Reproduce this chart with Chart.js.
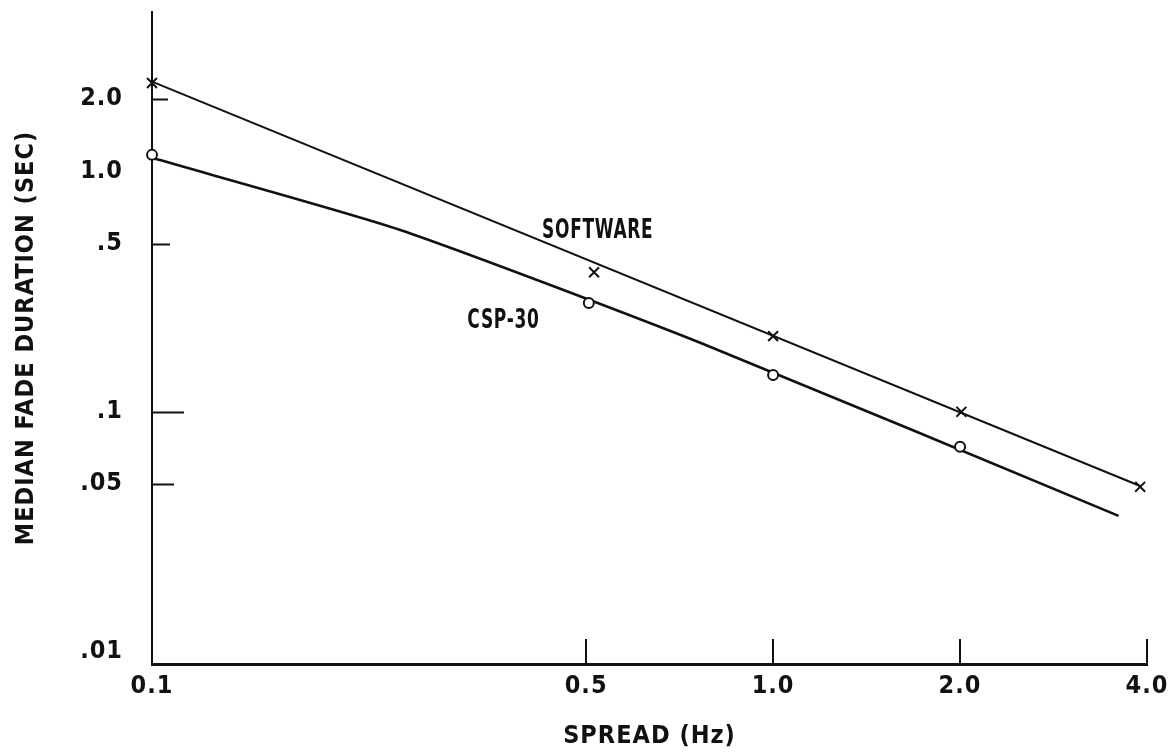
<!DOCTYPE html>
<html>
<head>
<meta charset="utf-8">
<title>Median fade duration vs spread</title>
<script src="https://cdn.jsdelivr.net/npm/chart.js@4.4.1/dist/chart.umd.min.js"></script>
<style>
  html, body { margin: 0; padding: 0; background: #fff; }
  #wrap { width: 1176px; height: 755px; }
</style>
</head>
<body>
<div id="wrap"><canvas id="fadeChart"></canvas></div>
<script>
// measured points, spread (Hz) / median fade duration (sec)
const softwareX = [0.1, 0.515, 1.0, 2.01, 3.9];
const softwareY = [2.33, 0.38, 0.206, 0.0997, 0.0486];
const cspX = [0.1, 0.505, 1.0, 2.0];
const cspY = [1.17, 0.283, 0.142, 0.0713];

// the hand drawn fit lines
const softwareFitX = [0.1, 3.9];
const softwareFitY = [2.36, 0.049];
const cspFitX = [0.1, 0.251, 0.765, 3.6];
const cspFitY = [1.137, 0.57, 0.193, 0.0368];

// axis ticks
const xTicks = [0.1, 0.5, 1.0, 2.0, 4.0];
const xTickText = ['0.1', '0.5', '1.0', '2.0', '4.0'];
const yTicks = [0.01, 0.05, 0.1, 0.5, 1.0, 2.0];
const yTickText = ['.01', '.05', '.1', '.5', '1.0', '2.0'];

// curve names, placed in data units
const curveNames = ['SOFTWARE', 'CSP-30'];
const curveNameX = [0.522, 0.368];
const curveNameY = [0.565, 0.238];

const INK = '#111';
const FONT = '"DejaVu Sans Condensed", "Liberation Sans Narrow", sans-serif';

function pts(xs, ys) {
    return xs.map((x, i) => ({ x: x, y: ys[i] }));
}

// short tick marks drawn inside the plot, like the original
const innerTicks = {
    id: 'innerTicks',
    afterDatasetsDraw(chart) {
        const { ctx, scales: { x, y } } = chart;
        const yLen = { 2.0: 16, 0.5: 18, 0.1: 32, 0.05: 22 };
        ctx.save();
        ctx.strokeStyle = INK;
        ctx.lineWidth = 2;
        ctx.beginPath();
        Object.keys(yLen).forEach(k => {
            const py = Math.round(y.getPixelForValue(Number(k))) + 0.5;
            ctx.moveTo(x.left, py);
            ctx.lineTo(x.left + yLen[k], py);
        });
        xTicks.slice(1).forEach(v => {
            const px = Math.round(x.getPixelForValue(v));
            ctx.moveTo(px, y.bottom);
            ctx.lineTo(px, y.bottom - 25);
        });
        ctx.stroke();
        ctx.restore();
    }
};

// curve names, squeezed sideways like the narrow lettering of the original
const curveLabels = {
    id: 'curveLabels',
    afterDatasetsDraw(chart) {
        const { ctx, scales: { x, y } } = chart;
        ctx.save();
        ctx.fillStyle = INK;
        ctx.font = 'bold 27px ' + FONT;
        ctx.textAlign = 'center';
        ctx.textBaseline = 'middle';
        curveNames.forEach((name, i) => {
            const px = x.getPixelForValue(curveNameX[i]);
            const py = y.getPixelForValue(curveNameY[i]);
            ctx.save();
            ctx.translate(px, py);
            ctx.scale(0.7, 1);
            ctx.fillText(name, 0, 0);
            ctx.restore();
        });
        ctx.restore();
    }
};

// typewriter-ish spacing
const spacing = {
    id: 'spacing',
    beforeDraw(chart) { chart.ctx.letterSpacing = '1px'; }
};

const tickFont = { family: FONT, size: 25, weight: 'bold' };

new Chart(document.getElementById('fadeChart'), {
    type: 'scatter',
    data: {
        datasets: [
            {
                label: 'SOFTWARE',
                data: pts(softwareX, softwareY),
                pointStyle: 'crossRot',
                pointRadius: 7,
                borderColor: INK,
                borderWidth: 2,
                clip: false
            },
            {
                label: 'CSP-30',
                data: pts(cspX, cspY),
                pointStyle: 'circle',
                pointRadius: 5,
                borderColor: INK,
                backgroundColor: '#fff',
                borderWidth: 2,
                clip: false
            },
            {
                label: 'SOFTWARE fit',
                data: pts(softwareFitX, softwareFitY),
                showLine: true,
                pointRadius: 0,
                borderColor: INK,
                borderWidth: 2,
                clip: false
            },
            {
                label: 'CSP-30 fit',
                data: pts(cspFitX, cspFitY),
                showLine: true,
                pointRadius: 0,
                borderColor: INK,
                borderWidth: 2.6,
                tension: 0.2,
                clip: false
            }
        ]
    },
    options: {
        responsive: true,
        maintainAspectRatio: false,
        animation: false,
        layout: { padding: { top: 12, right: 29, left: 0, bottom: 0 } },
        plugins: {
            legend: { display: false },
            tooltip: { enabled: false }
        },
        scales: {
            x: {
                type: 'logarithmic',
                min: 0.1,
                max: 4.0,
                afterBuildTicks: s => { s.ticks = xTicks.map(v => ({ value: v })); },
                afterFit: s => { s.height = 91; },
                grid: { display: false, drawTicks: false },
                border: { display: true, color: INK, width: 3 },
                ticks: {
                    autoSkip: false,
                    maxRotation: 0,
                    padding: 7,
                    color: INK,
                    font: tickFont,
                    callback: v => xTickText[xTicks.indexOf(v)]
                },
                title: {
                    display: true,
                    text: 'SPREAD (Hz)',
                    color: INK,
                    font: tickFont,
                    padding: { top: 0, bottom: 4 }
                }
            },
            y: {
                type: 'logarithmic',
                min: 0.0089,
                max: 4.6,
                afterBuildTicks: s => { s.ticks = yTicks.map(v => ({ value: v })); },
                // fixed width; drop the label padding so the axis runs up to the top
                afterFit: s => { s.width = 152; s.paddingTop = 0; s.paddingBottom = 0; },
                grid: { display: false, drawTicks: false },
                border: { display: true, color: INK, width: 2 },
                ticks: {
                    autoSkip: false,
                    padding: 29,
                    color: INK,
                    font: tickFont,
                    callback: v => yTickText[yTicks.indexOf(v)]
                },
                title: {
                    display: true,
                    text: 'MEDIAN FADE DURATION (SEC)',
                    color: INK,
                    font: tickFont,
                    padding: { top: 11, bottom: 0 }
                }
            }
        }
    },
    plugins: [spacing, innerTicks, curveLabels]
});
</script>
</body>
</html>
